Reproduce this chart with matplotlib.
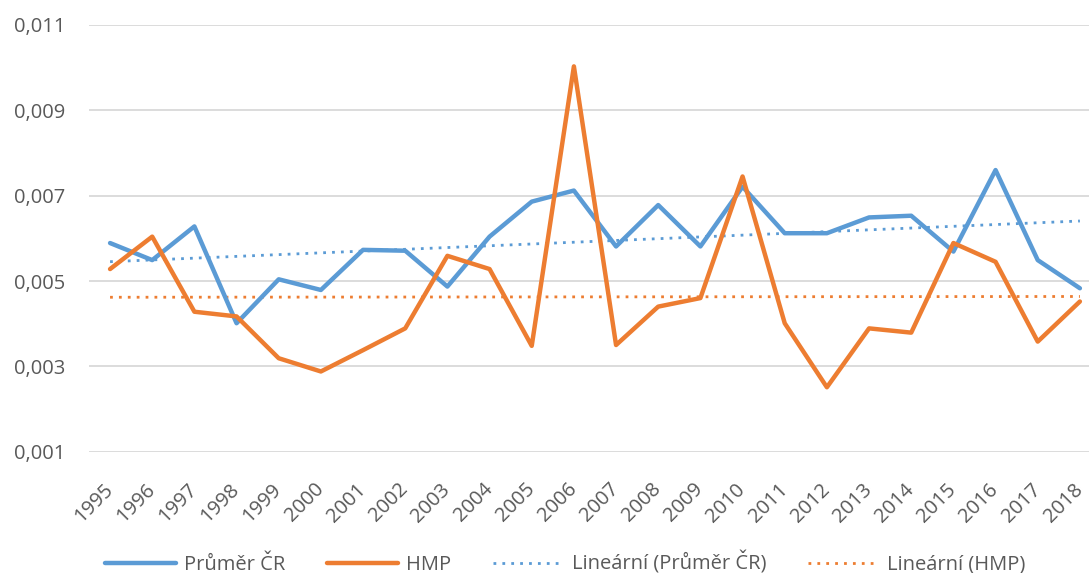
import numpy as np
import matplotlib.pyplot as plt
import matplotlib.transforms as mtrans
from matplotlib.ticker import FuncFormatter

years = list(range(1995, 2019))
prumer_cr = [0.00589, 0.00549, 0.00628, 0.00401, 0.00504, 0.00479, 0.00573, 0.00571,
             0.00487, 0.00604, 0.00686, 0.00712, 0.00581, 0.00678, 0.00581, 0.00721,
             0.00612, 0.00612, 0.00649, 0.00653, 0.00569, 0.00760, 0.00549, 0.00483]
hmp = [0.00528, 0.00604, 0.00428, 0.00417, 0.00319, 0.00288, 0.00338, 0.00389,
       0.00559, 0.00528, 0.00348, 0.01003, 0.00350, 0.00440, 0.00460, 0.00745,
       0.00401, 0.00251, 0.00389, 0.00379, 0.00589, 0.00545, 0.00358, 0.00452]
y_ticks = [0.001, 0.003, 0.005, 0.007, 0.009, 0.011]

blue = '#5B9BD5'
orange = '#ED7D31'
text_col = '#595959'

plt.rcParams['font.family'] = ['Open Sans', 'DejaVu Sans']

fig = plt.figure(figsize=(10.89, 5.73), dpi=100)
ax = fig.add_axes([0.0817, 0.2117, 0.9293, 0.7447])

x = np.arange(len(years))
ax.plot(x, prumer_cr, color=blue, lw=3.2, solid_capstyle='round', label='Průměr ČR', zorder=3)
ax.plot(x, hmp, color=orange, lw=3.2, solid_capstyle='round', label='HMP', zorder=3)

# linearni trendy
k1 = np.polyfit(x, prumer_cr, 1)
k2 = np.polyfit(x, hmp, 1)
ax.plot(x, np.polyval(k1, x), color=blue, lw=2, ls=(0, (1, 2.2)), label='Lineární (Průměr ČR)', zorder=2)
ax.plot(x, np.polyval(k2, x), color=orange, lw=2, ls=(0, (1, 2.2)), label='Lineární (HMP)', zorder=2)

ax.set_xlim(-0.5, len(years) - 0.5)
ax.set_ylim(0.001, 0.011)
ax.set_yticks(y_ticks)
ax.yaxis.set_major_formatter(FuncFormatter(lambda v, p: ('%.3f' % v).replace('.', ',')))
ax.set_xticks(x)
ax.set_xticklabels([str(r) for r in years], rotation=45, ha='right', va='center', rotation_mode='anchor')
posun = mtrans.ScaledTranslation(-4 / 100, 0, fig.dpi_scale_trans)
for lab in ax.get_xticklabels():
    lab.set_transform(lab.get_transform() + posun)
ax.grid(axis='y', color='#D9D9D9', lw=1.3)
ax.set_axisbelow(True)
for s in ax.spines.values():
    s.set_visible(False)
ax.tick_params(axis='y', length=0, labelsize=14.5, colors=text_col, pad=17)
ax.tick_params(axis='x', length=0, labelsize=14.5, colors=text_col, pad=25)

leg = fig.legend(loc='lower center', bbox_to_anchor=(0.519, -0.035), ncol=4, frameon=False,
                 fontsize=14.5, handlelength=3.5, handletextpad=0.4, columnspacing=2.1,
                 labelcolor=text_col)

fig.savefig('out.png', dpi=100)
